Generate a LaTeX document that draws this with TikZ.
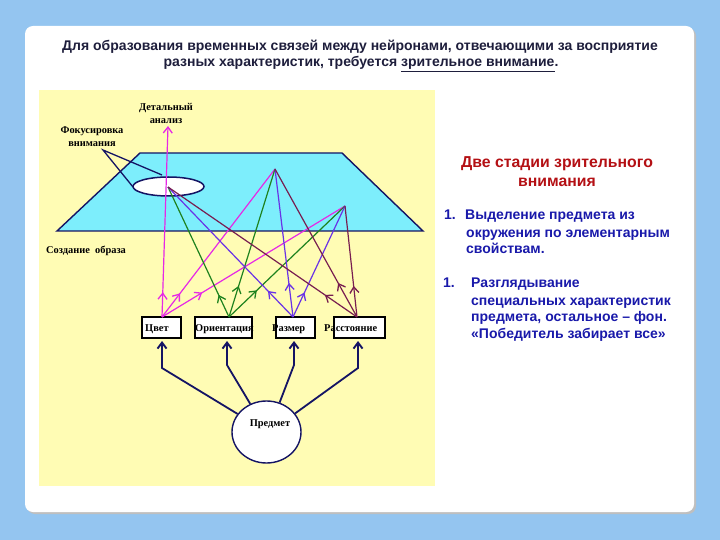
\documentclass[tikz,border=0pt]{standalone}
\usepackage{fontspec}
\setmainfont{Liberation Sans}
\newfontfamily\lblfont{Liberation Serif}
\usetikzlibrary{arrows.meta,decorations.markings,shapes.geometric}
\definecolor{bgblue}{RGB}{148,197,240}
\definecolor{yel}{RGB}{255,252,180}
\definecolor{cyanc}{RGB}{125,238,252}
\definecolor{navy}{RGB}{20,20,100}
\definecolor{titlec}{RGB}{30,30,60}
\definecolor{hred}{RGB}{180,16,20}
\definecolor{tblue}{RGB}{25,25,170}
\definecolor{magc}{RGB}{230,40,230}
\definecolor{greenc}{RGB}{30,130,30}
\definecolor{bluec}{RGB}{105,50,230}
\definecolor{maroonc}{RGB}{120,30,80}
\tikzset{
  titletxt/.style={font=\fontsize{14}{16}\selectfont\bfseries, text=titlec, inner sep=0pt, anchor=base},
  headtxt/.style={font=\fontsize{15.8}{18}\selectfont\bfseries, text=hred, inner sep=0pt, anchor=base},
  bodytxt/.style={font=\fontsize{14}{16}\selectfont\bfseries, text=tblue, inner sep=0pt, anchor=base west},
  lbl/.style={font=\lblfont\fontsize{10.4}{12}\selectfont\bfseries, text=black, inner sep=0pt, anchor=base},
  featbox/.style={draw=black, fill=white, line width=1.4pt, minimum height=21pt, inner sep=0pt},
  fa/.style={line width=1.2pt, postaction={decorate, decoration={markings,
     mark=at position #1 with {\arrow{Straight Barb[length=6pt,width=9pt,line width=1.3pt]}}}}},
  navyarr/.style={draw=navy, line width=1.8pt, -{Straight Barb[length=6pt,width=9pt,line width=1.9pt]}, shorten >=3pt}
}
\begin{document}
\begin{tikzpicture}[x=1pt,y=-1pt]
\useasboundingbox (0,0) rectangle (720,540);
\fill[bgblue] (0,0) rectangle (720,540);
\fill[black!25,rounded corners=8pt] (27,28) rectangle (696,514);
\fill[white,rounded corners=8pt] (25,26) rectangle (694,512);

% title
\node[titletxt] (t1) at (360,51) {Для образования временных связей между нейронами, отвечающими за восприятие};
\node[titletxt] (t2) at (361,67) {разных характеристик, требуется \underline{зрительное внимание}.};

% yellow panel
\fill[yel] (39,90) rectangle (435,486);

% image plane
\draw[navy, line width=1.4pt, fill=cyanc] (140,153) -- (342,153) -- (423,231) -- (57,231) -- cycle;
\draw[navy, line width=1.5pt, fill=white] (168.5,186.5) ellipse [x radius=35.5pt, y radius=9.5pt];

\coordinate (F)  at (103,150);
\coordinate (E1) at (133,187);
\coordinate (E2) at (162,175);
\draw[navy, line width=1.3pt] (E1) -- (F) -- (E2);

\coordinate (P1) at (168,187);
\coordinate (P2) at (275,169);
\coordinate (P3) at (345,206);
\coordinate (DA) at (168,126);

% feature boxes
\node[featbox, minimum width=39pt] (cvet) at (161.5,327.5) {};
\node[featbox, minimum width=57pt] (orient) at (223.5,327.5) {};
\node[featbox, minimum width=39pt] (razm) at (295.5,327.5) {};
\node[featbox, minimum width=51pt] (rasst) at (359.5,327.5) {};
\node[lbl, anchor=base west] (lcvet) at (145,331.5) {Цвет};
\node[lbl, anchor=base west] (lorient) at (195,331.5) {Ориентация};
\node[lbl, anchor=base west] (lrazm) at (272,331.5) {Размер};
\node[lbl, anchor=base west] (lrasst) at (324,331.5) {Расстояние};

\coordinate (sC) at (162,317);
\coordinate (sO) at (229,317);
\coordinate (sR) at (293,317);
\coordinate (sD) at (357,317);

% connections to image plane
\draw[magc, fa=0.13, -{Straight Barb[length=6pt,width=9pt,line width=1.3pt]}] (sC) -- (DA);
\draw[magc, fa=0.16] (sC) -- (P2);
\draw[magc, fa=0.22] (sC) -- (P3);
\draw[greenc, fa=0.17] (sO) -- (P1);
\draw[greenc, fa=0.21] (sO) -- (P2);
\draw[greenc, fa=0.24] (sO) -- (P3);
\draw[bluec, fa=0.20] (sR) -- (P1);
\draw[bluec, fa=0.23] (sR) -- (P2);
\draw[bluec, fa=0.22] (sR) -- (P3);
\draw[maroonc, fa=0.17] (sD) -- (P1);
\draw[maroonc, fa=0.23] (sD) -- (P2);
\draw[maroonc, fa=0.28] (sD) -- (P3);

% object
\node[draw=navy, line width=1.4pt, fill=white, ellipse, minimum width=69pt, minimum height=62pt, inner sep=0pt] (obj) at (266.5,432) {};
\node[lbl] (lobj) at (270,426) {Предмет};

\draw[navyarr] (obj.148) -- (162,368) -- (162,338);
\draw[navyarr] (obj.120) -- (227,365) -- (227,338);
\draw[navyarr] (obj.66) -- (294,365) -- (294,338);
\draw[navyarr] (obj.33) -- (358,368) -- (358,338);

% labels
\node[lbl] (det1) at (166,111) {Детальный};
\node[lbl] (det2) at (166,124) {анализ};
\node[lbl] (foc1) at (92,134) {Фокусировка};
\node[lbl] (foc2) at (92,147) {внимания};
\node[lbl, anchor=base west] (sozd) at (46,253) {Создание\ \ образа};

% right text
\node[headtxt] (h1) at (557,167.5) {Две стадии зрительного};
\node[headtxt] (h2) at (557,186.5) {внимания};
\node[bodytxt] (n1) at (444,220) {1.};
\node[bodytxt] (a1) at (465,220) {Выделение предмета из};
\node[bodytxt] (a2) at (466,237) {окружения по элементарным};
\node[bodytxt] (a3) at (466,254) {свойствам.};
\node[bodytxt] (n2) at (443,287) {1.};
\node[bodytxt] (b1) at (471,287) {Разглядывание};
\node[bodytxt] (b2) at (471,305) {специальных характеристик};
\node[bodytxt] (b3) at (471,321) {предмета, остальное – фон.};
\node[bodytxt] (b4) at (471,338) {«Победитель забирает все»};
\end{tikzpicture}
\end{document}
